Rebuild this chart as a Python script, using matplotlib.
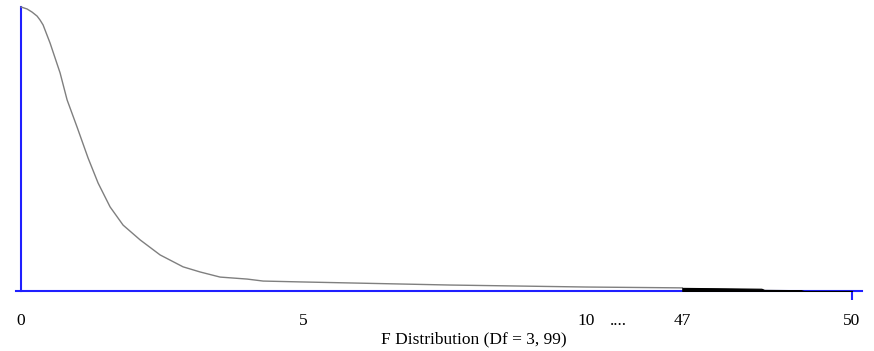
import numpy as np
import matplotlib
matplotlib.use("Agg")
from matplotlib import pyplot as plt

# F density (Df = 3, 99), relative height
f_vals = [0.0, 0.106, 0.195, 0.283, 0.336, 0.389, 0.513, 0.690, 0.814, 0.991, 1.186,
          1.363, 1.575, 1.805, 2.106, 2.460, 2.867, 3.168, 3.522, 4.0, 4.283, 4.938,
          7.59, 10.0, 47.0]
dens = [1.0, 0.993, 0.982, 0.968, 0.954, 0.937, 0.873, 0.768, 0.673, 0.577, 0.468,
        0.380, 0.296, 0.232, 0.180, 0.127, 0.085, 0.067, 0.049, 0.042, 0.035, 0.032,
        0.021, 0.014, 0.011]

# shaded tail beyond 47
tail_f = [47.0, 47.5, 48.4, 48.45, 49.1, 49.15, 50.0]
tail_d = [0.011, 0.010, 0.008, 0.004, 0.003, 0.0, 0.0]

tick_pos = [0, 5, 10, 22.4, 47, 50]   # 22.4 just holds the "...." break marker
tick_lab = ["0", "5", "10", "....", "47", "50"]

BLUE = "#1f1fff"
GAP = 1.7  # axis space used for the 10..47 break

def fwd(x):
    x = np.asarray(x, dtype=float)
    return np.where(x <= 10, x,
                    np.where(x < 47, 10 + (x - 10) * GAP / 37, x - 47 + 10 + GAP))

def inv(p):
    p = np.asarray(p, dtype=float)
    return np.where(p <= 10, p,
                    np.where(p < 10 + GAP, 10 + (p - 10) * 37 / GAP, p - 10 - GAP + 47))

plt.rcParams["font.family"] = ["Liberation Serif", "DejaVu Serif"]

fig = plt.figure(figsize=(8.74, 3.51), dpi=100)
ax = fig.add_axes([16 / 874, 60 / 351, 846 / 874, 284 / 351])
ax.set_xscale("function", functions=(fwd, inv))

ax.plot(f_vals, dens, color="#7f7f7f", lw=1.0, clip_on=False, zorder=3)
ax.fill_between(tail_f, 0, tail_d, color="black", lw=0.8, zorder=3)

ax.set_xlim(-0.09, 50.18)
ax.set_ylim(0, 1.0)

for s in ["top", "right"]:
    ax.spines[s].set_visible(False)
ax.spines["left"].set_position(("data", 0))
for s in ["left", "bottom"]:
    ax.spines[s].set_color(BLUE)
    ax.spines[s].set_linewidth(1.5)

ax.set_yticks([])
ax.set_xticks(tick_pos)
ax.set_xticklabels(tick_lab, fontsize=12.5)
ax.tick_params(axis="x", which="major", length=0, pad=16)
ax.xaxis.remove_overlapping_locs = False
ax.set_xticks([50], minor=True)
ax.tick_params(axis="x", which="minor", length=6.5, width=1.5, color=BLUE)

fig.text(474 / 874, 1 - 339 / 351, "F Distribution (Df = 3, 99)", fontsize=12.5,
         ha="center", va="center")

fig.savefig("out.png", dpi=100)
